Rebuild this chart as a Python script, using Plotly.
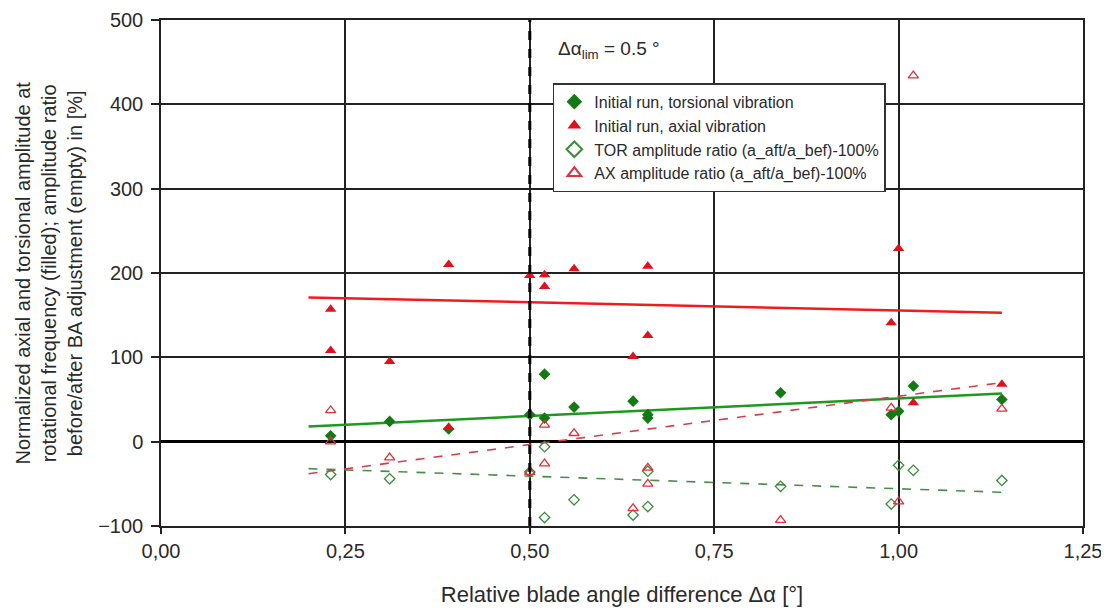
import plotly.graph_objects as go

# ---- data ----
tor_x = [0.23, 0.31, 0.39, 0.50, 0.52, 0.52, 0.56, 0.64, 0.66, 0.66, 0.84, 0.99, 1.00, 1.02, 1.14]
tor_y = [7, 24, 15, 32, 80, 28, 41, 48, 28, 32, 58, 32, 36, 66, 50]

ax_x = [0.23, 0.23, 0.31, 0.39, 0.39, 0.50, 0.52, 0.52, 0.56, 0.64, 0.66, 0.66, 0.84, 0.99, 1.00, 1.02, 1.14]
ax_y = [157, 108, 95, 210, 17, 197, 198, 184, 205, 101, 208, 126, 317, 141, 229, 46, 68]

torr_x = [0.23, 0.31, 0.50, 0.52, 0.52, 0.56, 0.64, 0.66, 0.66, 0.84, 0.99, 1.00, 1.02, 1.14]
torr_y = [-39, -44, -36, -6, -90, -69, -87, -77, -35, -53, -74, -28, -34, -46]

axr_x = [0.23, 0.23, 0.31, 0.50, 0.52, 0.52, 0.56, 0.64, 0.66, 0.66, 0.84, 0.99, 1.00, 1.02, 1.14]
axr_y = [37, 0, -19, -36, 20, -26, 10, -79, -31, -50, -93, 40, -71, 434, 39]

trend_x = [0.20, 1.14]
tor_trend = [18, 57]
ax_trend = [171, 153]
torr_trend = [-32, -60]
axr_trend = [-38, 70]

alpha_lim = 0.5

names = [
    "Initial run, torsional vibration",
    "Initial run, axial vibration",
    "TOR amplitude ratio (a_aft/a_bef)-100%",
    "AX amplitude ratio (a_aft/a_bef)-100%",
]

FONT = "Liberation Sans, Arial, sans-serif"
TXT = "#2a2a2a"

fig = go.Figure()

# trend lines
fig.add_trace(go.Scatter(x=trend_x, y=ax_trend, mode="lines", showlegend=False,
                         line=dict(color="#f01c1c", width=2.5), hoverinfo="skip"))
fig.add_trace(go.Scatter(x=trend_x, y=tor_trend, mode="lines", showlegend=False,
                         line=dict(color="#1d9a1d", width=2.5), hoverinfo="skip"))
fig.add_trace(go.Scatter(x=trend_x, y=axr_trend, mode="lines", showlegend=False,
                         line=dict(color="#d0404e", width=1.6, dash="dash"), hoverinfo="skip"))
fig.add_trace(go.Scatter(x=trend_x, y=torr_trend, mode="lines", showlegend=False,
                         line=dict(color="#4a8c4a", width=1.6, dash="dash"), hoverinfo="skip"))

# markers
fig.add_trace(go.Scatter(x=tor_x, y=tor_y, mode="markers", name=names[0],
                         marker=dict(symbol="diamond", size=9, color="#137a13")))
fig.add_trace(go.Scatter(x=ax_x, y=ax_y, mode="markers", name=names[1],
                         marker=dict(symbol="triangle-up", size=10, color="#e0101c")))
fig.add_trace(go.Scatter(x=torr_x, y=torr_y, mode="markers", name=names[2],
                         marker=dict(symbol="diamond-open", size=8, color="#3c8c3c",
                                     line=dict(width=1.3))))
fig.add_trace(go.Scatter(x=axr_x, y=axr_y, mode="markers", name=names[3],
                         marker=dict(symbol="triangle-up-open", size=9, color="#e0303c",
                                     line=dict(width=1.3))))

# limit line
fig.add_shape(type="line", xref="x", yref="paper", x0=alpha_lim, x1=alpha_lim, y0=0, y1=1,
              line=dict(color="black", width=3, dash="dash"))

fig.add_annotation(x=alpha_lim + 0.035, y=465, xref="x", yref="y", xanchor="left",
                   yanchor="middle", showarrow=False,
                   text="Δα<sub>lim</sub> = 0.5 °", font=dict(family=FONT, size=19, color=TXT))

fig.add_annotation(x=-0.122, y=0.5, xref="paper", yref="paper", textangle=-90,
                   showarrow=False, xanchor="center", yanchor="middle",
                   text="Normalized axial and torsional amplitude at<br>"
                        "rotational frequency (filled); amplitude ratio<br>"
                        "before/after BA adjustment (empty) in [%]",
                   font=dict(family=FONT, size=20, color=TXT))

# page body has an 8 px default margin: size the figure so the plot area lands
# where the reference's does
fig.update_layout(
    width=1101, height=605,
    margin=dict(l=153, r=26, t=12, b=87, autoexpand=False),
    paper_bgcolor="white", plot_bgcolor="white",
    separators=",.",
    font=dict(family=FONT, size=20, color=TXT),
    showlegend=True,
    legend=dict(x=0.425, y=0.875, xanchor="left", yanchor="top",
                bgcolor="white", bordercolor="#333", borderwidth=1.5,
                font=dict(family=FONT, size=16, color=TXT),
                tracegroupgap=0, itemsizing="constant"),
    xaxis=dict(range=[0, 1.25], dtick=0.25, tick0=0, tickformat=".2f",
               automargin=False,
               showgrid=True, gridcolor="#222", gridwidth=1.5,
               showline=True, linecolor="#222", linewidth=1.5, mirror=True,
               ticks="outside", ticklen=6, tickcolor="#222", tickwidth=1.5,
               zeroline=False,
               title=dict(text="Relative blade angle difference Δα [°]",
                          font=dict(family=FONT, size=22, color=TXT), standoff=26)),
    yaxis=dict(range=[-100, 500], dtick=100, tick0=0,
               automargin=False,
               showgrid=True, gridcolor="#222", gridwidth=1.5,
               showline=True, linecolor="#222", linewidth=1.5, mirror=True,
               ticks="outside", ticklen=8, tickcolor="#222", tickwidth=1.5,
               ticklabelstandoff=4,
               zeroline=True, zerolinecolor="black", zerolinewidth=3),
)

fig.write_html("out.html")
